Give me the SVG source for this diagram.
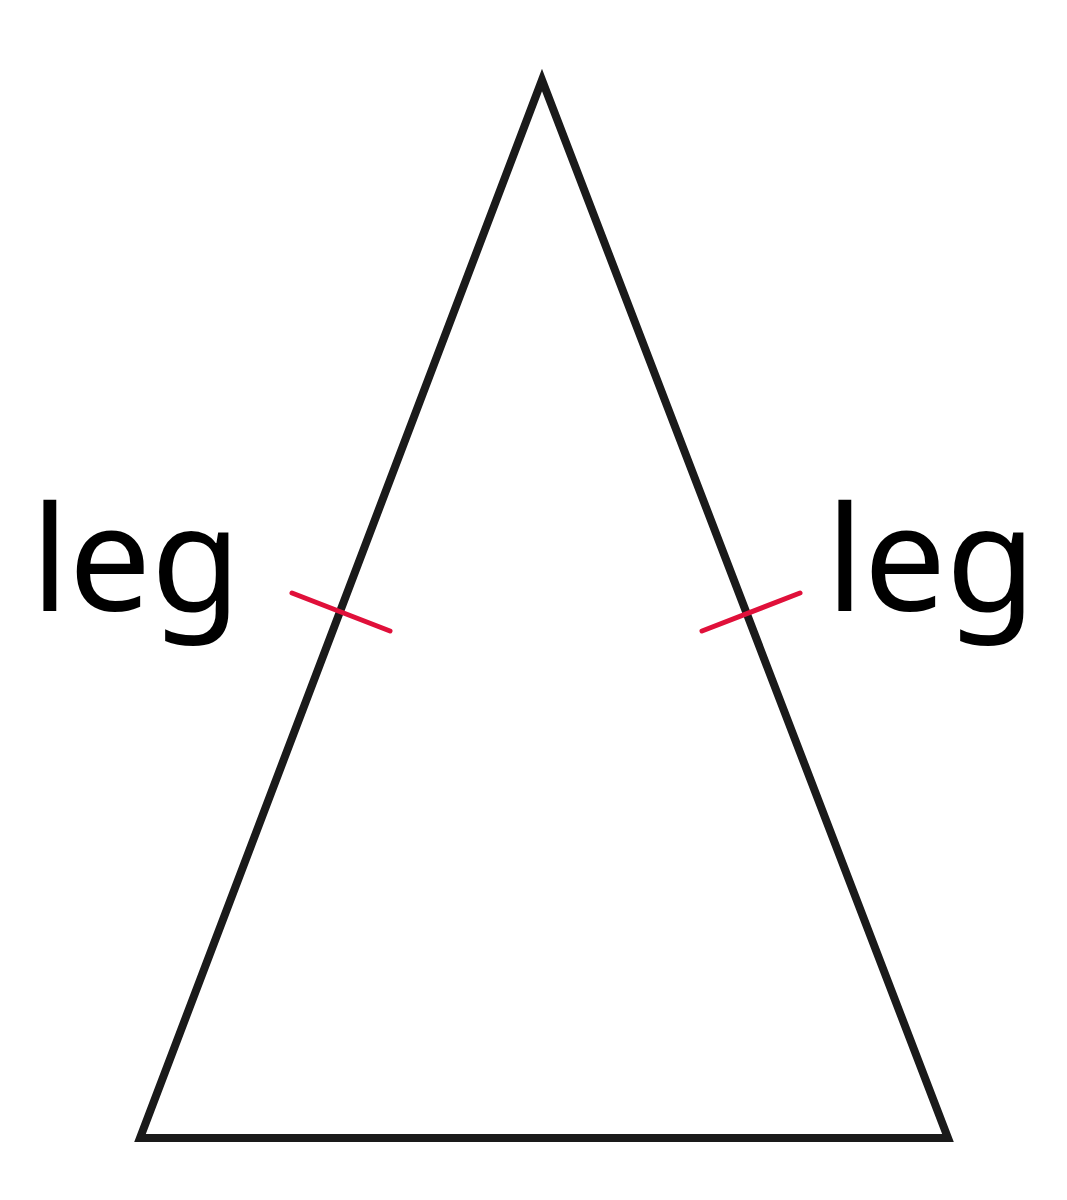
<svg xmlns="http://www.w3.org/2000/svg" width="1067" height="1200" viewBox="0 0 1067 1200">
<style>
.lbl{font-family:"Noto Sans","Liberation Sans",sans-serif;font-size:146px;fill:#000}
.tick{stroke:#e0103a;stroke-width:5;fill:none;stroke-linecap:round}
</style>
<rect width="1067" height="1200" fill="#fff"/>
<g id="triangle">
<polygon points="542,80 140,1138 948,1138" fill="none" stroke="#1a1a1a" stroke-width="8" stroke-linejoin="miter"/>
</g>
<g id="ticks">
<line class="tick" x1="292" y1="593" x2="390" y2="631"/>
<line class="tick" x1="702" y1="631" x2="800" y2="593"/>
</g>
<g id="labels">
<text class="lbl" x="31" y="611">leg</text>
<text class="lbl" x="826" y="611">leg</text>
</g>
</svg>
